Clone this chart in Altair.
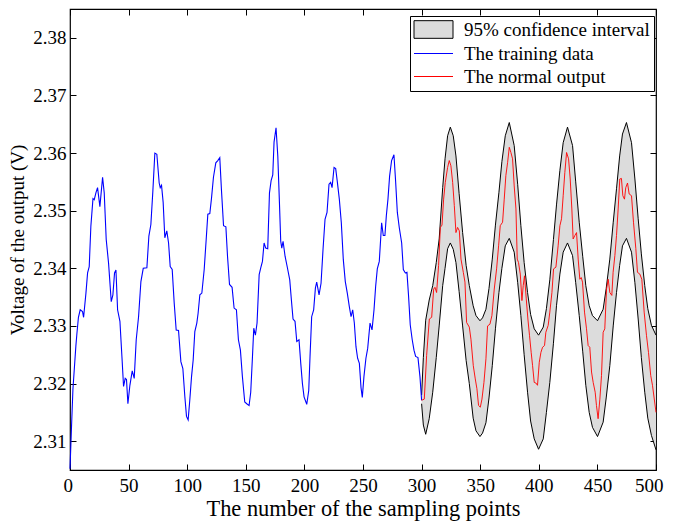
import altair as alt
import pandas as pd

SERIES = ["95% confidence interval", "The training data", "The normal output"]

train_x = [0, 1.2, 2.5, 3.6, 5.0, 5.9, 7.2, 8.7, 10.7, 11.6, 13.6, 15.0, 16.4, 17.8, 19.6, 20.7, 22.1, 23.5, 25.5, 27.8,
           29.2, 30.9, 32.9, 35.2, 36.6, 38.0, 39.2, 40.6, 42.6, 44.3, 45.7, 47.1, 48.2, 49.4, 51.1, 53.1, 54.8, 56.5,
           58.5, 60.5, 62.5, 65.6, 67.3, 69.0, 70.7, 72.4, 74.1, 76.1, 77.0, 78.1, 79.5, 80.9, 82.6, 84.1, 85.5, 87.2,
           88.9, 90.6, 92.6, 94.6, 96.3, 98.0, 99.4, 100.8, 102.2, 103.7, 105.1, 106.5, 108.2, 109.3, 110.8, 112.5,
           114.5, 116.2, 117.6, 119.3, 120.7, 122.4, 124.4, 126.1, 127.8, 129.2, 131.0, 133.0, 134.4, 136.1, 138.3,
           140.0, 142.0, 143.7, 145.4, 147.1, 149.1, 150.8, 152.8, 154.2, 155.7, 156.8, 158.2, 159.6, 161.4, 162.8,
           164.2, 165.6, 167.0, 168.7, 170.2, 171.6, 173.0, 174.1, 175.8, 177.3, 178.7, 179.8, 180.7, 181.8, 183.5,
           185.5, 187.5, 188.9, 190.3, 192.0, 193.5, 195.4, 196.9, 198.3, 199.7, 202.0, 203.7, 204.8, 206.2, 207.9,
           209.4, 210.5, 212.5, 214.2, 215.9, 217.6, 219.3, 221.0, 222.4, 223.6, 225.3, 226.7, 228.1, 229.8, 231.5,
           233.2, 234.9, 236.6, 238.3, 239.8, 241.2, 242.6, 244.0, 245.4, 246.9, 248.3, 249.4, 250.8, 252.5, 254.0,
           256.0, 257.7, 259.4, 260.8, 262.2, 263.9, 265.9, 267.3, 268.7, 269.9, 271.3, 272.7, 274.4, 276.4, 277.8,
           279.3, 281.0, 283.0, 284.4, 286.1, 287.5, 288.9, 290.3, 292.0, 293.5, 294.9, 296.9, 298.6, 300.0]
train_y = [2.3052, 2.3120, 2.3190, 2.3223, 2.3265, 2.3287, 2.3315, 2.3328, 2.3325, 2.3315, 2.3357, 2.3392, 2.3403,
           2.3473, 2.3521, 2.3519, 2.3531, 2.3540, 2.3507, 2.3558, 2.3531, 2.3450, 2.3409, 2.3342, 2.3354, 2.3392,
           2.3397, 2.3328, 2.3308, 2.3247, 2.3195, 2.3209, 2.3207, 2.3165, 2.3197, 2.3222, 2.3209, 2.3276, 2.3316,
           2.3377, 2.3400, 2.3401, 2.3456, 2.3476, 2.3534, 2.3600, 2.3598, 2.3548, 2.3540, 2.3544, 2.3514, 2.3453,
           2.3465, 2.3444, 2.3403, 2.3398, 2.3340, 2.3293, 2.3292, 2.3238, 2.3226, 2.3177, 2.3143, 2.3137, 2.3171,
           2.3212, 2.3241, 2.3290, 2.3305, 2.3322, 2.3354, 2.3357, 2.3398, 2.3450, 2.3494, 2.3495, 2.3521, 2.3558,
           2.3583, 2.3587, 2.3592, 2.3537, 2.3474, 2.3472, 2.3421, 2.3372, 2.3367, 2.3331, 2.3328, 2.3276, 2.3258,
           2.3212, 2.3168, 2.3165, 2.3162, 2.3185, 2.3247, 2.3296, 2.3284, 2.3305, 2.3389, 2.3401, 2.3412, 2.3444,
           2.3435, 2.3434, 2.3531, 2.3552, 2.3562, 2.3619, 2.3644, 2.3595, 2.3514, 2.3447, 2.3435, 2.3447, 2.3421,
           2.3401, 2.3380, 2.3345, 2.3312, 2.3308, 2.3273, 2.3276, 2.3235, 2.3200, 2.3177, 2.3164, 2.3188, 2.3247,
           2.3316, 2.3328, 2.3366, 2.3376, 2.3354, 2.3374, 2.3433, 2.3485, 2.3497, 2.3546, 2.3549, 2.3540, 2.3575,
           2.3573, 2.3550, 2.3520, 2.3479, 2.3415, 2.3377, 2.3357, 2.3334, 2.3316, 2.3328, 2.3305, 2.3264, 2.3244,
           2.3235, 2.3193, 2.3176, 2.3212, 2.3244, 2.3261, 2.3305, 2.3293, 2.3328, 2.3369, 2.3399, 2.3412, 2.3479,
           2.3457, 2.3457, 2.3491, 2.3520, 2.3560, 2.3587, 2.3597, 2.3552, 2.3497, 2.3470, 2.3444, 2.3398, 2.3392,
           2.3393, 2.3351, 2.3302, 2.3276, 2.3258, 2.3247, 2.3245, 2.3212, 2.3171]

norm_x = [300.0, 302.3, 304.3, 306.6, 308.6, 310.3, 311.4, 312.8, 314.5, 316.0, 317.4, 318.8, 320.2, 322.2, 323.6,
          325.0, 326.5, 327.9, 329.3, 330.7, 332.2, 333.6, 335.6, 337.0, 338.4, 340.7, 342.1, 344.1, 345.8, 347.2,
          348.6, 350.1, 351.5, 353.2, 354.9, 356.3, 358.3, 360.0, 362.0, 364.0, 365.7, 367.1, 369.1, 370.5, 371.9,
          373.4, 374.8, 376.2, 377.6, 379.0, 380.5, 381.6, 382.7, 384.2, 385.6, 386.7, 387.8, 389.3, 390.7, 392.1,
          393.5, 394.7, 396.1, 397.5, 398.9, 400.4, 401.8, 403.2, 404.9, 406.0, 408.0, 409.4, 411.2, 412.6, 414.6,
          416.5, 418.0, 419.4, 420.8, 422.2, 423.7, 425.4, 426.8, 428.2, 429.3, 430.8, 432.2, 433.6, 435.0, 436.2,
          437.3, 439.0, 440.7, 442.1, 443.5, 445.0, 446.4, 448.1, 449.2, 450.6, 452.1, 453.5, 454.9, 456.3, 457.8,
          459.2, 460.6, 462.3, 463.4, 464.9, 466.3, 467.7, 469.1, 470.5, 471.7, 473.1, 474.2, 475.7, 477.1, 479.1,
          480.8, 482.8, 484.2, 486.2, 487.9, 489.9, 491.9, 493.6, 495.5, 497.0, 500.0]
norm_y = [2.3171, 2.3173, 2.3249, 2.3312, 2.3315, 2.3364, 2.3367, 2.3358, 2.3405, 2.3471, 2.3475, 2.3520, 2.3549,
          2.3575, 2.3587, 2.3578, 2.3549, 2.3509, 2.3462, 2.3471, 2.3465, 2.3416, 2.3393, 2.3376, 2.3306, 2.3298,
          2.3277, 2.3231, 2.3208, 2.3191, 2.3162, 2.3159, 2.3173, 2.3202, 2.3243, 2.3300, 2.3303, 2.3318, 2.3364,
          2.3399, 2.3439, 2.3474, 2.3480, 2.3520, 2.3561, 2.3584, 2.3610, 2.3601, 2.3590, 2.3543, 2.3503, 2.3416,
          2.3410, 2.3390, 2.3344, 2.3370, 2.3387, 2.3347, 2.3312, 2.3283, 2.3254, 2.3231, 2.3202, 2.3201, 2.3197,
          2.3237, 2.3254, 2.3263, 2.3266, 2.3289, 2.3301, 2.3324, 2.3358, 2.3399, 2.3402, 2.3439, 2.3474, 2.3486,
          2.3526, 2.3566, 2.3601, 2.3590, 2.3555, 2.3503, 2.3451, 2.3457, 2.3462, 2.3416, 2.3381, 2.3384, 2.3376,
          2.3324, 2.3295, 2.3266, 2.3263, 2.3220, 2.3202, 2.3185, 2.3162, 2.3139, 2.3173, 2.3214, 2.3289, 2.3295,
          2.3364, 2.3381, 2.3358, 2.3353, 2.3393, 2.3422, 2.3457, 2.3503, 2.3555, 2.3556, 2.3526, 2.3520, 2.3540,
          2.3548, 2.3529, 2.3526, 2.3480, 2.3434, 2.3393, 2.3390, 2.3381, 2.3324, 2.3283, 2.3254, 2.3214, 2.3197,
          2.3150]

band_x = [300.0, 301.5, 303.5, 306.5, 309.5, 312.5, 315.0, 318.0, 320.0, 322.2, 324.5, 327.0, 329.3, 332.0, 335.0,
          338.0, 340.7, 344.0, 346.4, 349.8, 352.0, 354.9, 357.5, 360.3, 363.0, 366.0, 368.5, 371.4, 374.8, 379.0,
          382.0, 384.7, 387.5, 390.4, 393.0, 396.1, 399.8, 403.8, 406.5, 409.4, 412.5, 415.1, 418.0, 420.8, 424.5,
          428.8, 431.5, 434.5, 437.5, 440.1, 443.0, 445.8, 450.1, 454.9, 457.5, 460.6, 463.5, 466.3, 469.0, 471.4,
          474.8, 479.1, 482.0, 484.8, 487.5, 490.4, 493.0, 496.1, 500.0]
band_upper = [2.3180, 2.3245, 2.3310, 2.3345, 2.3370, 2.3410, 2.3451, 2.3540, 2.3590, 2.3630, 2.3645, 2.3630, 2.3595,
              2.3530, 2.3462, 2.3405, 2.3370, 2.3335, 2.3318, 2.3309, 2.3314, 2.3329, 2.3365, 2.3416, 2.3475, 2.3532,
              2.3585, 2.3630, 2.3653, 2.3613, 2.3545, 2.3474, 2.3410, 2.3358, 2.3320, 2.3295, 2.3284, 2.3298, 2.3330,
              2.3380, 2.3450, 2.3510, 2.3570, 2.3618, 2.3645, 2.3613, 2.3550, 2.3480, 2.3420, 2.3370, 2.3335, 2.3318,
              2.3309, 2.3329, 2.3365, 2.3416, 2.3480, 2.3538, 2.3595, 2.3633, 2.3653, 2.3618, 2.3555, 2.3486, 2.3425,
              2.3370, 2.3330, 2.3301, 2.3284]
band_lower = [2.3165, 2.3128, 2.3112, 2.3139, 2.3185, 2.3245, 2.3300, 2.3370, 2.3400, 2.3434, 2.3444, 2.3433, 2.3410,
              2.3360, 2.3300, 2.3240, 2.3200, 2.3140, 2.3118, 2.3108, 2.3114, 2.3132, 2.3175, 2.3231, 2.3295, 2.3358,
              2.3400, 2.3439, 2.3452, 2.3428, 2.3375, 2.3318, 2.3250, 2.3185, 2.3135, 2.3104, 2.3086, 2.3104, 2.3150,
              2.3202, 2.3270, 2.3335, 2.3390, 2.3428, 2.3444, 2.3422, 2.3375, 2.3318, 2.3255, 2.3197, 2.3150, 2.3124,
              2.3108, 2.3133, 2.3175, 2.3231, 2.3300, 2.3358, 2.3405, 2.3439, 2.3452, 2.3428, 2.3375, 2.3312, 2.3245,
              2.3185, 2.3140, 2.3110, 2.3085]

x_ticks = [0, 50, 100, 150, 200, 250, 300, 350, 400, 450, 500]
y_ticks = [2.31, 2.32, 2.33, 2.34, 2.35, 2.36, 2.37, 2.38]

FONT = "Liberation Serif"
W, H = 586, 461

train_df = pd.DataFrame({"x": train_x, "y": train_y, "series": SERIES[1]})
norm_df = pd.DataFrame({"x": norm_x, "y": norm_y, "series": SERIES[2]})
band_df = pd.DataFrame({"x": band_x, "upper": band_upper, "lower": band_lower, "series": SERIES[0]})
bounds_df = pd.concat([
    pd.DataFrame({"x": band_x, "y": band_upper, "part": "upper", "series": SERIES[0]}),
    pd.DataFrame({"x": band_x, "y": band_lower, "part": "lower", "series": SERIES[0]}),
])
legend_df = pd.DataFrame({"series": pd.Series([], dtype=str)})

xs = alt.Scale(domain=[0, 500], nice=False, zero=False)
ys = alt.Scale(domain=[2.305, 2.385], nice=False, zero=False)
fill_scale = alt.Scale(domain=SERIES, range=["#dcdcdc", "#0000ff", "#ff0000"])
stroke_scale = alt.Scale(domain=SERIES, range=["#000000", "#0000ff", "#ff0000"])
rect_path = "M-2.1667,-0.98H2.1667V0.98H-2.1667Z"
line_path = "M-2.1667,0H2.1667"
shape_scale = alt.Scale(domain=SERIES, range=[rect_path, line_path, line_path])

tick_common = dict(labels=False, domain=False, ticks=True, tickSize=6, tickColor="black",
                   tickWidth=1, grid=False, title=None)

x_main = alt.Axis(values=x_ticks, format="d", title="The number of the sampling points", ticks=False,
                  tickSize=0, domain=False, grid=False, labelFlush=True, labelFlushOffset=7,
                  labelOverlap=False, labelFontSize=19, labelPadding=6, titleFontSize=22.4, titlePadding=2,
                  labelFont=FONT, titleFont=FONT, labelColor="black", titleColor="black",
                  titleFontWeight="normal")
y_main = alt.Axis(values=y_ticks, format=".2f", title="Voltage of the output (V)", ticks=False,
                  tickSize=0, domain=False, grid=False, labelFlush=False, labelOverlap=False,
                  labelFontSize=19, labelPadding=4, titleFontSize=19, titlePadding=5, labelFont=FONT,
                  titleFont=FONT, labelColor="black", titleColor="black", titleFontWeight="normal")
x_in_bottom = alt.Axis(values=x_ticks, orient="top", offset=-H, **tick_common)
x_in_top = alt.Axis(values=x_ticks, orient="bottom", offset=-H, **tick_common)
y_in_left = alt.Axis(values=y_ticks, orient="right", offset=-W, **tick_common)
y_in_right = alt.Axis(values=y_ticks, orient="left", offset=-W, **tick_common)

leg = alt.Legend(title=None, orient="none", legendX=340, legendY=7, fillColor="white", strokeColor="black",
                 padding=4, symbolSize=324, symbolStrokeWidth=1, symbolOffset=10, labelOffset=21,
                 labelFont=FONT, labelFontSize=19, labelColor="black", labelLimit=400, rowPadding=3)

area = alt.Chart(band_df).mark_area(opacity=1).encode(
    x=alt.X("x:Q", scale=xs, axis=x_main),
    y=alt.Y("upper:Q", scale=ys, axis=y_main),
    y2="lower:Q",
    fill=alt.Fill("series:N", scale=fill_scale, legend=leg),
)
bounds = alt.Chart(bounds_df).mark_line(strokeWidth=1).encode(
    x=alt.X("x:Q", scale=xs, axis=x_in_bottom),
    y=alt.Y("y:Q", scale=ys, axis=y_in_left),
    detail="part:N",
    stroke=alt.Stroke("series:N", scale=stroke_scale, legend=leg),
)
train = alt.Chart(train_df).mark_line(strokeWidth=1.1).encode(
    x=alt.X("x:Q", scale=xs, axis=x_in_top),
    y=alt.Y("y:Q", scale=ys, axis=y_in_right),
    stroke=alt.Stroke("series:N", scale=stroke_scale, legend=leg),
)
norm = alt.Chart(norm_df).mark_line(strokeWidth=0.9).encode(
    x=alt.X("x:Q", scale=xs, axis=None),
    y=alt.Y("y:Q", scale=ys, axis=None),
    stroke=alt.Stroke("series:N", scale=stroke_scale, legend=leg),
)
legend_layer = alt.Chart(legend_df).mark_point(filled=True).encode(
    fill=alt.Fill("series:N", scale=fill_scale, legend=leg),
    stroke=alt.Stroke("series:N", scale=stroke_scale, legend=leg),
    shape=alt.Shape("series:N", scale=shape_scale, legend=leg),
)

chart = alt.layer(area, bounds, train, norm, legend_layer).resolve_axis(
    x="independent", y="independent"
).properties(
    width=W, height=H,
    autosize=alt.AutoSizeParams(type="none"),
    padding={"left": 62, "top": 1, "right": 9, "bottom": 51},
).configure(font=FONT).configure_view(stroke="black", strokeWidth=1.2)

chart.save("out.html", embed_options={"renderer": "svg", "actions": False})
